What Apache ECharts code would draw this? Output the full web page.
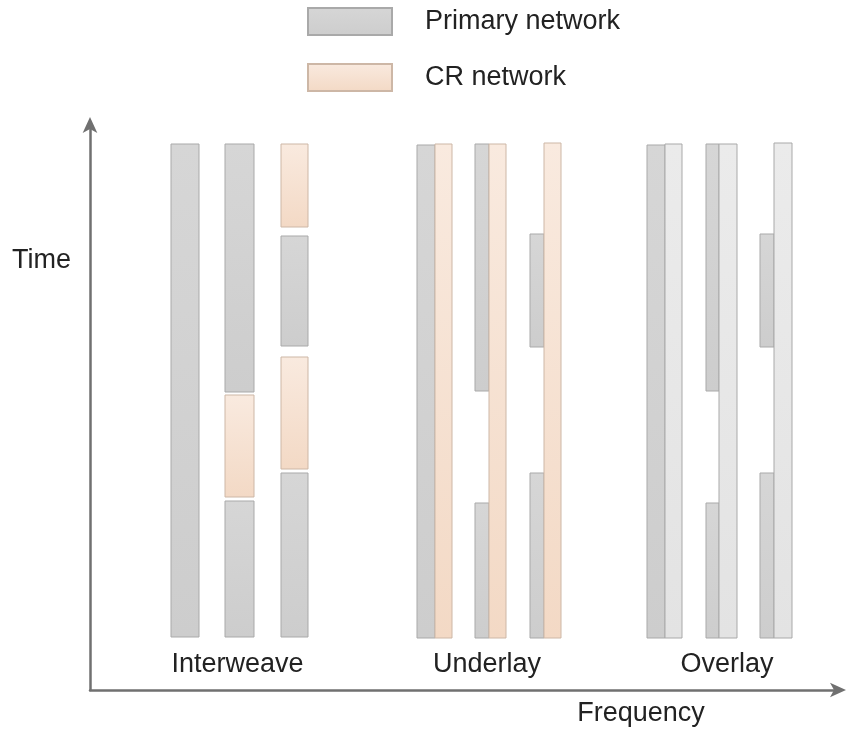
<!DOCTYPE html>
<html>
<head>
<meta charset="utf-8">
<script src="https://cdn.jsdelivr.net/npm/echarts@6/dist/echarts.min.js"></script>
<style>
html,body{margin:0;padding:0;background:#fff;}
#chart{width:848px;height:732px;}
</style>
</head>
<body>
<div id="chart"></div>
<script>
// Each bar: [freqStart, freqEnd, timeStart, timeEnd]
const primaryBars = [
  [81, 109, 53, 546],
  [135, 164, 298, 546],
  [135, 164, 53, 189],
  [191, 218, 344, 454],
  [191, 218, 53, 217],
  [327, 345, 52, 545],
  [385, 399, 299, 546],
  [385, 399, 52, 187],
  [440, 454, 343, 456],
  [440, 454, 52, 217],
  [557, 575, 52, 545],
  [616, 629, 299, 546],
  [616, 629, 52, 187],
  [670, 684, 343, 456],
  [670, 684, 52, 217]
];
const crBars = [
  [135, 164, 193, 295],
  [191, 218, 463, 546],
  [191, 218, 221, 333],
  [345, 362, 52, 546],
  [399, 416, 52, 546],
  [454, 471, 52, 547]
];
const overlayBars = [
  [575, 592, 52, 546],
  [629, 647, 52, 546],
  [684, 702, 52, 547]
];
const groupNames = ['Interweave', 'Underlay', 'Overlay'];
const groupCenters = [147.5, 397, 637];

const FONT = '"Liberation Sans", Arial, Helvetica, sans-serif';

function renderRect(params, api) {
  const p0 = api.coord([api.value(0), api.value(3)]);
  const p1 = api.coord([api.value(1), api.value(2)]);
  return {
    type: 'rect',
    shape: { x: p0[0], y: p0[1], width: p1[0] - p0[0], height: p1[1] - p0[1] },
    style: api.style()
  };
}

const grayFill = new echarts.graphic.LinearGradient(0, 0, 0, 1, [
  { offset: 0, color: '#d6d6d6' }, { offset: 1, color: '#cdcdcd' }
]);
const crFill = new echarts.graphic.LinearGradient(0, 0, 0, 1, [
  { offset: 0, color: '#f9eadf' }, { offset: 1, color: '#f3d9c5' }
]);
const lightFill = new echarts.graphic.LinearGradient(0, 0, 0, 1, [
  { offset: 0, color: '#ebebeb' }, { offset: 1, color: '#e3e3e3' }
]);

const chart = echarts.init(document.getElementById('chart'), null, { renderer: 'canvas' });
chart.setOption({
  backgroundColor: '#ffffff',
  animation: false,
  legend: {
    orient: 'vertical',
    left: 307,
    top: 7,
    padding: 0,
    itemWidth: 84,
    itemHeight: 27,
    itemGap: 27,
    icon: 'rect',
    data: ['Primary network', 'CR network'],
    textStyle: { fontFamily: FONT, fontSize: 27, color: '#222', lineHeight: 27, padding: [0, 0, 0, 28] }
  },
  grid: { left: 90, right: 8, top: 123, bottom: 42 },
  xAxis: {
    type: 'value',
    min: 0,
    max: 750,
    splitLine: { show: false },
    axisTick: { show: false },
    axisLine: { show: true, symbol: ['none', 'arrow'], symbolSize: [11, 16], symbolOffset: [0, 6], lineStyle: { color: '#707070', width: 2.5 } },
    axisLabel: {
      show: true,
      inside: true,
      margin: 12,
      customValues: groupCenters,
      formatter: function (v) {
        const i = groupCenters.indexOf(v);
        return i >= 0 ? groupNames[i] : '';
      },
      fontFamily: FONT,
      fontSize: 27,
      color: '#222'
    }
  },
  yAxis: {
    type: 'value',
    min: 0,
    max: 567,
    splitLine: { show: false },
    axisTick: { show: false },
    axisLabel: { show: false },
    axisLine: { show: true, symbol: ['none', 'arrow'], symbolSize: [11, 16], symbolOffset: [0, 6], lineStyle: { color: '#707070', width: 2.5 } }
  },
  graphic: [
    { type: 'text', left: 12, top: 247, style: { text: 'Time', font: '27px ' + FONT, fill: '#222' } },
    { type: 'text', x: 641, y: 714, style: { text: 'Frequency', font: '27px ' + FONT, fill: '#222', align: 'center', verticalAlign: 'middle' } }
  ],
  series: [
    {
      name: 'Primary network',
      type: 'custom',
      renderItem: renderRect,
      encode: { x: [0, 1], y: [2, 3] },
      itemStyle: { color: grayFill, borderColor: '#a9a9a9', borderWidth: 1 },
      data: primaryBars
    },
    {
      name: 'CR network',
      type: 'custom',
      renderItem: renderRect,
      encode: { x: [0, 1], y: [2, 3] },
      itemStyle: { color: crFill, borderColor: '#cdb7a6', borderWidth: 1 },
      data: crBars
    },
    {
      name: 'CR network (overlay)',
      type: 'custom',
      renderItem: renderRect,
      encode: { x: [0, 1], y: [2, 3] },
      itemStyle: { color: lightFill, borderColor: '#a9a9a9', borderWidth: 1 },
      data: overlayBars
    }
  ]
});
</script>
</body>
</html>
